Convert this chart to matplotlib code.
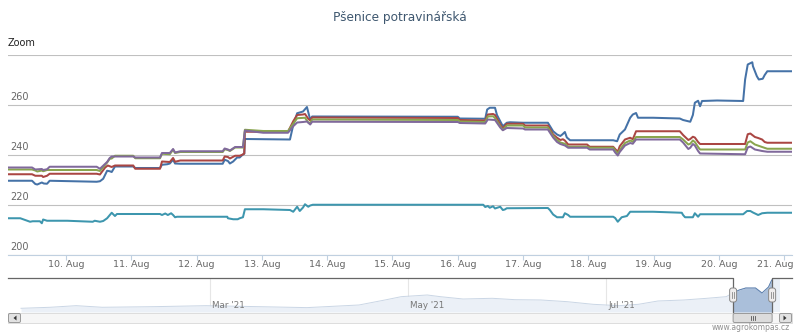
import numpy as np
import pandas as pd
import matplotlib
matplotlib.use("Agg")
import matplotlib.pyplot as plt
import matplotlib.dates as mdates
import matplotlib.transforms as mtransforms
from matplotlib.patches import Rectangle, FancyBboxPatch, Polygon

title = "Pšenice potravinářská"
colors = ["#4572A7", "#AA4643", "#89A54E", "#80699B", "#3D96AE"]

# time as fractional day of August 2021
blue_days = [9.11, 9.48, 9.53, 9.56, 9.63, 9.66, 9.71, 9.75, 10.47, 10.52, 10.57, 10.63, 10.67, 10.70, 10.75,
             11.03, 11.06, 11.44, 11.47, 11.55, 11.59, 11.64, 11.67, 11.75, 12.40, 12.43, 12.48, 12.51, 12.56,
             12.62, 12.66, 12.70, 12.73, 12.74, 13.43, 13.48, 13.54, 13.63, 13.69, 13.74, 13.77, 16.00, 16.03,
             16.42, 16.45, 16.49, 16.57, 16.60, 16.65, 16.69, 16.75, 16.80, 17.00, 17.38, 17.46, 17.52, 17.57,
             17.60, 17.64, 17.67, 17.72, 18.38, 18.44, 18.48, 18.56, 18.64, 18.68, 18.73, 18.76, 18.99, 19.40,
             19.45, 19.56, 19.60, 19.63, 19.68, 19.71, 19.74, 19.97, 20.37, 20.40, 20.44, 20.51, 20.52, 20.58,
             20.61, 20.67, 20.70, 20.74, 21.12]
blue_vals = [229.7, 229.7, 228.4, 228.2, 229.0, 228.6, 228.5, 229.7, 229.3, 229.5, 230.5, 233.7, 233.5, 233.2, 235.4,
             235.4, 234.8, 234.8, 236.1, 236.3, 236.6, 238.1, 236.6, 236.5, 236.5, 238.1, 237.6, 236.6, 237.4,
             239.0, 239.0, 240.0, 240.5, 246.4, 246.2, 252.0, 256.7, 257.4, 259.2, 254.1, 255.4, 255.3, 254.6,
             254.5, 258.2, 258.9, 258.9, 256.0, 253.5, 251.5, 252.9, 253.1, 252.9, 252.9, 249.5, 248.2, 247.6,
             248.2, 249.2, 247.0, 245.9, 245.9, 245.5, 248.2, 250.2, 254.9, 256.2, 256.8, 254.9, 254.9, 254.6,
             254.0, 253.3, 256.0, 260.9, 261.7, 259.5, 261.6, 261.8, 261.6, 270.2, 276.2, 277.1, 275.5, 271.5,
             270.2, 270.5, 272.0, 273.5, 273.5]

red_days = [9.11, 9.48, 9.53, 9.63, 9.65, 9.71, 9.75, 10.47, 10.52, 10.60, 10.64, 10.70, 10.75, 11.03, 11.06,
            11.44, 11.47, 11.59, 11.64, 11.67, 11.75, 12.40, 12.43, 12.48, 12.51, 12.59, 12.66, 12.70, 12.73,
            12.74, 13.40, 13.48, 13.54, 13.63, 13.66, 13.71, 13.74, 13.77, 16.00, 16.03, 16.42, 16.46, 16.54,
            16.57, 16.65, 16.69, 16.75, 17.00, 17.03, 17.38, 17.46, 17.52, 17.57, 17.61, 17.64, 17.69, 17.98,
            18.02, 18.38, 18.41, 18.45, 18.48, 18.56, 18.64, 18.68, 18.73, 19.40, 19.45, 19.53, 19.56, 19.60,
            19.63, 19.68, 19.71, 20.40, 20.44, 20.48, 20.55, 20.60, 20.66, 20.70, 20.74, 21.12]
red_vals = [232.3, 232.3, 231.7, 231.7, 231.2, 231.7, 232.5, 232.5, 232.2, 235.0, 235.8, 235.2, 235.8, 235.8, 234.5,
            234.5, 237.4, 237.2, 238.8, 237.3, 237.8, 237.8, 239.4, 239.2, 238.6, 239.7, 239.7, 240.1, 240.6,
            249.3, 249.3, 253.5, 256.0, 256.2, 256.4, 254.5, 253.8, 255.0, 254.8, 254.0, 253.8, 256.2, 256.4,
            256.0, 252.2, 250.6, 252.5, 252.5, 251.8, 251.8, 248.2, 246.9, 246.0, 246.3, 245.8, 244.2, 244.2,
            243.3, 243.3, 242.4, 241.3, 243.5, 246.2, 246.9, 246.3, 249.5, 249.5, 248.0, 246.0, 246.4, 247.3,
            247.0, 245.2, 244.4, 244.4, 248.3, 248.6, 247.2, 246.8, 246.2, 245.2, 244.9, 244.9]

green_days = [9.11, 9.48, 9.53, 9.56, 9.63, 9.65, 9.71, 10.47, 10.52, 10.63, 10.67, 10.70, 10.75, 11.03, 11.06,
              11.44, 11.47, 11.59, 11.64, 11.67, 11.75, 12.40, 12.43, 12.48, 12.51, 12.59, 12.71, 12.74, 13.02,
              13.40, 13.48, 13.54, 13.66, 13.71, 13.74, 13.77, 16.00, 16.03, 16.42, 16.46, 16.54, 16.57, 16.65,
              16.69, 16.75, 17.00, 17.03, 17.38, 17.46, 17.52, 17.57, 17.64, 17.69, 17.98, 18.02, 18.38, 18.41,
              18.45, 18.48, 18.56, 18.64, 18.68, 18.73, 19.40, 19.45, 19.53, 19.56, 19.60, 19.63, 19.68, 19.71,
              20.40, 20.44, 20.48, 20.55, 20.66, 20.74, 21.12]
green_vals = [234.2, 234.2, 233.8, 233.4, 233.8, 233.5, 234.0, 234.0, 233.6, 237.0, 238.5, 238.6, 239.7, 239.7, 238.7,
              238.7, 240.5, 240.3, 242.1, 240.8, 241.2, 241.2, 242.3, 242.0, 241.6, 243.0, 243.0, 250.1, 249.6,
              249.6, 252.5, 254.7, 254.9, 253.0, 252.8, 254.2, 254.0, 253.4, 253.2, 255.4, 255.5, 254.8, 251.5,
              250.0, 251.8, 251.8, 251.0, 251.0, 247.6, 246.0, 245.0, 244.5, 243.3, 243.3, 242.9, 242.9, 241.8,
              240.5, 242.0, 244.8, 245.8, 245.3, 247.2, 247.2, 246.2, 244.2, 244.5, 245.8, 245.2, 243.2, 242.2,
              242.2, 245.0, 245.5, 244.2, 243.2, 242.5, 242.5]

purple_days = [9.11, 9.48, 9.53, 9.63, 9.65, 9.71, 9.75, 10.47, 10.52, 10.63, 10.67, 10.70, 11.03, 11.06,
               11.44, 11.47, 11.59, 11.64, 11.67, 11.75, 12.40, 12.43, 12.48, 12.51, 12.59, 12.71, 12.74, 13.02,
               13.40, 13.48, 13.54, 13.63, 13.69, 13.74, 13.77, 16.00, 16.03, 16.42, 16.46, 16.57, 16.65, 16.69,
               16.75, 17.00, 17.03, 17.38, 17.46, 17.52, 17.57, 17.64, 17.69, 17.98, 18.02, 18.38, 18.41, 18.45,
               18.48, 18.56, 18.64, 18.68, 18.73, 19.40, 19.45, 19.53, 19.56, 19.60, 19.63, 19.68, 19.71, 20.40,
               20.44, 20.48, 20.55, 20.66, 20.74, 21.12]
purple_vals = [235.0, 235.0, 234.2, 234.4, 234.0, 234.3, 235.3, 235.3, 234.5, 237.2, 238.8, 239.4, 239.4, 239.0,
               239.0, 240.8, 240.8, 242.4, 241.0, 241.5, 241.5, 242.6, 242.2, 241.8, 243.2, 243.2, 249.8, 248.9,
               248.9, 251.5, 253.0, 253.2, 253.4, 252.2, 253.3, 253.2, 252.8, 252.6, 254.2, 254.0, 251.0, 249.9,
               250.8, 250.6, 250.2, 250.2, 247.0, 245.2, 244.4, 243.8, 242.9, 242.9, 242.2, 242.2, 241.0, 239.8,
               241.2, 243.8, 244.8, 244.5, 246.2, 246.2, 245.0, 242.4, 242.9, 244.4, 243.8, 241.6, 240.6, 240.3,
               243.0, 243.4, 242.2, 241.6, 241.3, 241.3]

teal_days = [9.11, 9.30, 9.45, 9.49, 9.60, 9.63, 9.65, 9.71, 10.02, 10.41, 10.44, 10.52, 10.57, 10.63, 10.70,
             10.75, 10.78, 11.44, 11.47, 11.52, 11.56, 11.61, 11.64, 11.67, 11.70, 12.47, 12.48, 12.56, 12.63,
             12.66, 12.71, 12.74, 13.02, 13.43, 13.48, 13.54, 13.58, 13.63, 13.66, 13.71, 13.74, 13.78, 16.39,
             16.42, 16.46, 16.49, 16.54, 16.57, 16.65, 16.69, 16.72, 16.75, 17.38, 17.41, 17.46, 17.52, 17.61,
             17.64, 17.69, 17.72, 18.38, 18.41, 18.45, 18.51, 18.59, 18.64, 18.99, 19.43, 19.45, 19.48, 19.60,
             19.63, 19.68, 19.71, 20.37, 20.43, 20.48, 20.52, 20.60, 20.66, 20.74, 21.12]
teal_vals = [214.7, 214.7, 213.3, 213.5, 213.5, 212.7, 214.2, 213.7, 213.7, 213.3, 213.7, 213.3, 213.6, 214.7, 216.9,
             215.6, 216.4, 216.4, 216.0, 216.6, 216.0, 216.7, 216.0, 215.1, 215.3, 215.3, 214.7, 214.3, 214.3,
             214.7, 215.1, 218.3, 218.3, 218.0, 217.3, 219.3, 217.6, 219.0, 220.3, 219.3, 219.8, 220.1, 220.1,
             219.2, 219.6, 218.9, 219.5, 218.6, 219.3, 218.0, 218.2, 218.7, 218.8, 218.0, 216.2, 215.1, 215.1,
             216.7, 216.0, 215.3, 215.3, 214.8, 213.3, 215.1, 215.6, 217.3, 217.3, 216.9, 216.0, 215.1, 215.1,
             216.7, 215.3, 216.3, 216.3, 217.6, 217.6, 217.0, 216.0, 216.7, 216.9, 216.9]

series_days = [blue_days, red_days, green_days, purple_days, teal_days]
series_vals = [blue_vals, red_vals, green_vals, purple_vals, teal_vals]

# navigator overview (whole history)
nav_dates = ["2021-01-02", "2021-01-11", "2021-01-19", "2021-01-27", "2021-02-12", "2021-02-28", "2021-03-16",
             "2021-03-31", "2021-04-16", "2021-04-24", "2021-04-29", "2021-05-07", "2021-05-11", "2021-05-18",
             "2021-05-27", "2021-06-03", "2021-06-11", "2021-06-19", "2021-06-27", "2021-07-05", "2021-07-11",
             "2021-07-17", "2021-07-25", "2021-08-01", "2021-08-07", "2021-08-09", "2021-08-11", "2021-08-13",
             "2021-08-16", "2021-08-18", "2021-08-20", "2021-08-21"]
nav_vals = [190.8, 193.8, 198.5, 193.8, 195.6, 198.5, 195.6, 192.8, 200.5, 215.1, 224.8, 229.7, 224.8, 218.0,
            220.0, 216.0, 215.1, 210.2, 202.5, 198.5, 202.5, 212.2, 215.1, 220.0, 224.8, 235.5, 244.3, 250.1,
            250.1, 235.5, 253.0, 273.5]

yticks = [200, 220, 240, 260, 280]
view_start, view_end = 9.112, 21.118    # selected range, day of August
nav_range = ("2020-12-29 00:00", "2021-08-27 05:30")


def aug(days):
    return pd.Timestamp("2021-08-01") + pd.to_timedelta(np.asarray(days) - 1, unit="D")


W, H = 800, 336
fig = plt.figure(figsize=(W / 100, H / 100), dpi=100)


def box(l, t, r, b):
    return [l / W, 1 - b / H, (r - l) / W, (b - t) / H]


# ---- main chart
ax = fig.add_axes(box(8, 55, 792, 255))
for d, v, c in zip(series_days, series_vals, colors):
    ax.plot(aug(d), v, color=c, lw=1.45, solid_joinstyle="round")
ax.set_xlim(aug(view_start), aug(view_end))
ax.set_ylim(200, 280)
ax.set_yticks(yticks)
ax.yaxis.grid(True, color="#C0C0C0", lw=0.8)
ax.set_axisbelow(True)
ax.tick_params(axis="y", length=0, labelleft=False)
for s in ["top", "left", "right"]:
    ax.spines[s].set_visible(False)
ax.spines["bottom"].set_color("#C0D0E0")
ax.spines["bottom"].set_linewidth(0.8)
ax.xaxis.set_major_locator(mdates.DayLocator())
ax.xaxis.set_major_formatter(mdates.DateFormatter("%d. %b"))
ax.tick_params(axis="x", direction="out", length=3.3, width=0.8, color="#C0D0E0",
               labelcolor="#666666", labelsize=6.8, pad=0)
lbls = ax.get_xticklabels()
lbls[-1].set_transform(lbls[-1].get_transform() + mtransforms.ScaledTranslation(-9 / 100, 0, fig.dpi_scale_trans))
ylab_tr = mtransforms.blended_transform_factory(ax.transAxes, ax.transData) + \
    mtransforms.ScaledTranslation(2 / 100, 3 / 100, fig.dpi_scale_trans)
for v in yticks[:-1]:
    ax.text(0, v, str(v), transform=ylab_tr, ha="left", va="bottom", fontsize=7, color="#666666")

fig.text(0.5, 1 - 17 / H, title, ha="center", va="center", fontsize=8.7, color="#3E576F")
fig.text(8 / W, 1 - 43 / H, "Zoom", ha="left", va="center", fontsize=7, color="#222222")

# ---- navigator
nav = fig.add_axes(box(8, 278, 792, 312))
nt = pd.to_datetime(nav_dates)
nav.set_xlim(pd.Timestamp(nav_range[0]), pd.Timestamp(nav_range[1]))
nav.set_ylim(180, 279.3)
nav.axis("off")
nav.xaxis.set_major_locator(mdates.MonthLocator(bymonth=[3, 5, 7]))
for loc in nav.xaxis.get_major_locator()():
    nav.axvline(loc, color="#E6E6E6", lw=0.8, zorder=0)
    d = mdates.num2date(loc)
    nav.text(loc, 0.2, d.strftime("%b '%y"), transform=mtransforms.blended_transform_factory(nav.transData, nav.transAxes)
             + mtransforms.ScaledTranslation(2 / 100, 0, fig.dpi_scale_trans),
             ha="left", va="center", fontsize=6.3, color="#777777")
nav.fill_between(nt, nav_vals, 180, color="#EBF0F7", lw=0, zorder=1)
nav.plot(nt, nav_vals, color="#CAD6E5", lw=0.7, zorder=2)
s0, s1 = mdates.date2num(aug(view_start)), mdates.date2num(aug(view_end))
clip = Rectangle((s0, 180), s1 - s0, 100, transform=nav.transData)
sel_fill = nav.fill_between(nt, nav_vals, 180, color="#AABFDA", lw=0, zorder=3)
sel_fill.set_clip_path(clip)
sel_line, = nav.plot(nt, nav_vals, color="#5B7FAD", lw=0.7, zorder=4)
sel_line.set_clip_path(clip)
nav.axvspan(mdates.date2num(aug(view_end)), mdates.date2num(aug(23.5)), color="#EAF0F7", lw=0, zorder=0)

# ---- outline, handles, scrollbar (figure pixel overlay)
ui = fig.add_axes([0, 0, 1, 1])
ui.set_xlim(0, W)
ui.set_ylim(H, 0)
ui.axis("off")
hl = nav.transData.transform((s0, 200))[0]
hr = nav.transData.transform((s1, 200))[0]
oc = "#666666"
ui.plot([8, hl, hl], [278, 278, 312], color=oc, lw=0.9)
ui.plot([hr, hr, 792], [312, 278, 278], color=oc, lw=0.9)

# scrollbar
ui.add_patch(Rectangle((8, 313), 784, 10, fc="#F6F6F6", ec="#DDDDDD", lw=0.7))
for bx, pts in [(8, [(16.5, 315.5), (16.5, 320.5), (13.5, 318)]),
                (779, [(783.5, 315.5), (783.5, 320.5), (786.5, 318)])]:
    ui.add_patch(FancyBboxPatch((bx + 0.5, 313.5), 12, 9, boxstyle="round,pad=0,rounding_size=1.5",
                                fc="#E2E2E2", ec="#999999", lw=0.7))
    ui.add_patch(Polygon(pts, closed=True, fc="#333333", ec="none"))
ui.add_patch(FancyBboxPatch((hl, 313.5), hr - hl, 9, boxstyle="round,pad=0,rounding_size=1.5",
                            fc="#DCDCDC", ec="#999999", lw=0.7))
cx = (hl + hr) / 2
for dx in (-2, 0, 2):
    ui.plot([cx + dx, cx + dx], [316, 320], color="#555555", lw=0.6)

# handles
for hx in (hl, hr):
    ui.add_patch(FancyBboxPatch((hx - 3.5, 288), 7, 14, boxstyle="round,pad=0,rounding_size=2.5",
                                fc="#EFEDED", ec="#888888", lw=0.7, zorder=5))
    for dx in (-1, 1):
        ui.plot([hx + dx, hx + dx], [292, 298], color="#888888", lw=0.6, zorder=6)

fig.text(790 / W, 1 - 328 / H, "www.agrokompas.cz", ha="right", va="center", fontsize=5.5, color="#909090")

fig.savefig("out.png", dpi=100)
